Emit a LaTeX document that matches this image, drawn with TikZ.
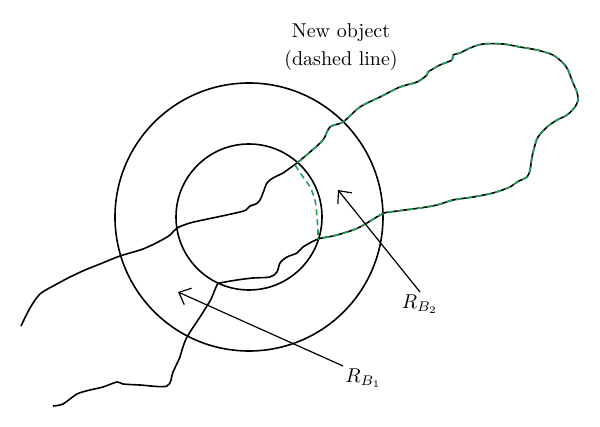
\documentclass[tikz,border=0pt]{standalone}
\usetikzlibrary{arrows.meta}

\definecolor{objgreen}{RGB}{34,160,90}

\tikzset{
	wiggle/.style = {line width = 0.8pt, line join = round},
	newobj/.style = {objgreen, line width = 0.8pt, dash pattern = on 3pt off 2pt},
	ring/.style = {line width = 0.8pt},
	arr/.style = {line width = 0.6pt, ->},
	lbl/.style = {inner sep = 1pt}
}

\begin{document}
\begin{tikzpicture}[x = 0.5pt, y = -0.5pt, > = {Straight Barb[length = 5pt, width = 9pt]}]

	\useasboundingbox (0, 0) rectangle (600, 427);

	% Balls round the old object
	
	\coordinate (c) at (249, 217);
	\draw [ring] (c) circle [radius = 67pt];
	\draw [ring] (c) circle [radius = 36.5pt];
	
	% Old object + new object
	
	\draw [wiggle] plot [smooth, tension = 0.5] coordinates {
		(21,326) (30,308) (40,294) (55,285) (70,277) (85,270) (100,264) (120,256)
		(143,249) (160,241) (170,235) (177,228) (190,223) (203,220) (222,216)
		(240,212) (246,210) (250,206) (256,204) (260,200) (263,193) (267,183)
		(273,178) (283,173) (290,168) (297,163)
		(310,152) (323,140) (330,127) (343,122) (360,107) (380,97) (400,87)
		(417,82) (427,75) (428,72) (440,65) (452,60) (453,55) (460,53) (470,48)
		(483,44) (503,44) (520,47) (537,50) (553,55) (563,63) (568,70) (573,83)
		(577,92) (578,100) (575,107) (567,115) (557,120) (547,127) (538,137)
		(535,145) (532,157) (530,170) (527,177) (517,182) (510,187) (493,193)
		(473,197) (453,200) (437,205) (420,208) (390,212) (382,214) (360,227)
		(347,232) (333,236) (318,239)
		(303,247) (297,253) (287,257) (280,263) (277,272) (270,277) (253,278)
		(237,280) (220,283) (217,285) (212,297) (210,301) (200,317) (187,337)
		(182,350) (180,357) (173,372) (167,386) (140,385) (123,384) (117,382)
		(103,387) (90,390) (77,394) (63,404) (53,406)};
	
	\draw [newobj] plot [smooth, tension = 0.5] coordinates {
		(297,163) (310,152) (323,140) (330,127) (343,122) (360,107) (380,97)
		(400,87) (417,82) (427,75) (428,72) (440,65) (452,60) (453,55) (460,53)
		(470,48) (483,44) (503,44) (520,47) (537,50) (553,55) (563,63) (568,70)
		(573,83) (577,92) (578,100) (575,107) (567,115) (557,120) (547,127)
		(538,137) (535,145) (532,157) (530,170) (527,177) (517,182) (510,187)
		(493,193) (473,197) (453,200) (437,205) (420,208) (390,212) (382,214)
		(360,227) (347,232) (333,236) (318,239)};
	
	\draw [newobj] plot [smooth] coordinates {
		(295,165) (303,177) (310,187) (315,200) (317,217) (318,232) (318,239)};
	
	% Labels
	
	\node [align = center] (title) at (341, 47) {New object\\[2pt](dashed line)};
	
	\node [lbl, anchor = north] (rb2) at (420, 292) {$R_{B_2}$};
	\node [lbl, anchor = north west] (rb1) at (343, 366) {$R_{B_1}$};
	
	\coordinate (tip2) at (338, 190);
	\coordinate (tip1) at (178, 292);
	
	\draw [arr] (rb2.north) -- (tip2);
	\draw [arr] (rb1.north west) -- (tip1);

\end{tikzpicture}
\end{document}
